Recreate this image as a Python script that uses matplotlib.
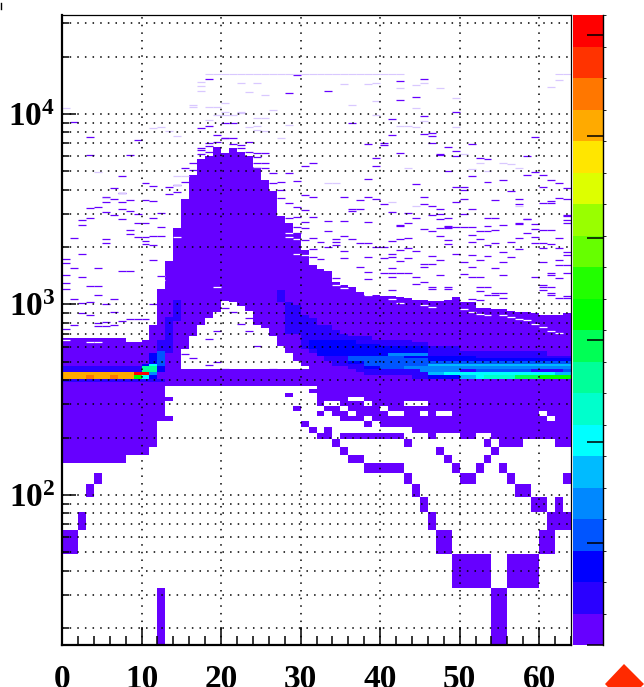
import numpy as np
import matplotlib
matplotlib.use("Agg")
import matplotlib.pyplot as plt
from matplotlib.colors import ListedColormap, BoundaryNorm
from matplotlib.lines import Line2D
from matplotlib.patches import Polygon
from matplotlib.ticker import FixedLocator, NullFormatter
from matplotlib.transforms import Bbox

plt.rcParams['font.family'] = ['Liberation Serif', 'DejaVu Serif']
plt.rcParams['mathtext.fontset'] = 'custom'
plt.rcParams['mathtext.bf'] = 'Liberation Serif:bold'
plt.rcParams['mathtext.rm'] = 'Liberation Serif:bold'

# -------------------------
# histogram layout
# -------------------------
n_x = 64
bin_w = 16.3
n_y = 520
y_max = 33080
z_max = 3097

palette = ['#6600ff', '#2a00ff', '#0000ff', '#0055ff', '#0088ff', '#00bbff', '#00ffff',
           '#00ffcc', '#00ff99', '#00ff55', '#00ff00', '#22ff00', '#66ff00', '#99ff00',
           '#ddff00', '#ffe600', '#ffaa00', '#ff7700', '#ff3300', '#ff0000']

# -------------------------
# solid purple area, one value per x bin
# -------------------------
solid_top = [665, 665, 665, 665, 665, 665, 665, 665, 630, 630, 650, 780, 1202, 1679, 2512, 3565,
             4786, 5781, 6026, 6745, 6219, 6607, 6339, 5970, 5297, 4508, 3912, 2890, 2667, 2366, 1932, 1611,
             1517, 1486, 1291, 1265, 1230, 1146, 1122, 1122, 1100, 1100, 1091, 1069, 1057, 1057, 1035, 1035,
             1045, 1091, 1023, 1014, 955, 955, 935, 935, 916, 906, 899, 881, 864, 864, 868, 881]

# white dome under the peak
dome_bins = list(range(14, 31))
dome_top = [455, 581, 682, 780, 845, 898, 1032, 1020, 973, 916, 780, 735, 676, 589, 542, 500, 468]
dome_low = 444

# sparse lower part: y bin number -> x bins filled
low_rows = [
    (1, [12, 54, 55]),
    (2, [*range(49, 54), *range(56, 60)]),
    (3, [0, 1, 47, 48, 60, 61]),
    (4, [2, 46, 61, 62, 63]),
    (5, [45, 59, 60, 62]),
    (6, [3, 44, 57, 58]),
    (7, [4, 43, 50, 51, 56, 63]),
    (8, [*range(38, 43), 49, 52, 55]),
    (9, [*range(0, 8), 36, 37, 48, 53]),
    (10, [*range(0, 11), 35, 47, 54]),
    (11, [*range(0, 12), 34, 43, 53, 55, 56, 57, 62, 63]),
    (12, [*range(0, 12), 32, 33, *range(35, 43), 46, 50, 51, *range(54, 64)]),
    (13, [*range(0, 12), 31, 33, *range(44, 64)]),
    (14, [*range(0, 12), 30, 38, *range(40, 64)]),
    (15, [*range(0, 14), 35, 36, 37, *range(39, 61), 62, 63]),
    (16, [*range(0, 13), 32, 34, 35, *range(37, 41), 43, 44, 46, *range(49, 60), 61, 62, 63]),
    (17, [*range(0, 13), 29, 33, 34, *range(36, 40), *range(41, 64)]),
    (18, [*range(0, 13), 32, 35, 36, 37, *range(39, 43), *range(46, 64)]),
    (19, [*range(0, 14), *range(32, 36), *range(38, 64)]),
    (20, [*range(0, 13), 28, *range(32, 64)]),
    (21, [*range(0, 13), 31, *range(32, 64)]),
    (22, [*range(0, 13), *range(32, 64)]),
]

# -------------------------
# coloured blocks: first bin, last bin, low y, high y, content
# -------------------------
block_first = [0, 0, 13, 14, 12, 27, 28, 29, 30, 31, 32, 33, 34, 35, 36, 37, 38, 39, 41, 44, 46, 50, 61]
block_last = [9, 12, 13, 14, 12, 27, 28, 29, 30, 31, 32, 33, 34, 35, 36, 37, 38, 40, 43, 45, 49, 60, 63]
block_low = [440, 391, 554, 811, 554, 1030, 700, 700, 588, 554, 531, 500, 480, 471, 460, 440, 425, 420, 417, 412, 407, 407, 407]
block_high = [472, 407, 861, 1054, 660, 1190, 1030, 990, 880, 845, 780, 780, 730, 705, 680, 680, 680, 650, 650, 630, 610, 565, 545]
block_value = [230] * 23

deep_first = [31, 32, 36, 40, 38, 46, 52, 12, 11, 10]
deep_last = [33, 36, 39, 45, 39, 51, 63, 12, 11, 10]
deep_low = [590, 545, 490, 475, 450, 500, 500, 440, 490, 472]
deep_high = [650, 650, 620, 600, 520, 545, 525, 472, 550, 490]
deep_value = [390, 390, 390, 390, 390, 390, 390, 390, 390, 390]

mid_first = [36, 38, 40, 46, 52, 55, 63, 12, 46, 50, 41, 46, 50, 12]
mid_last = [37, 42, 45, 63, 54, 58, 63, 12, 50, 50, 45, 49, 63, 12]
mid_low = [500, 480, 455, 489, 440, 440, 440, 472, 407, 407, 537, 440, 456, 472]
mid_high = [540, 540, 520, 505, 456, 456, 456, 572, 424, 424, 553, 472, 472, 572]
mid_value = [545, 545, 545, 545, 545, 545, 545, 545, 390, 545, 700, 700, 700, 545]

top_first = [43, 46, 45, 46, 48, 62, 50, 52, 53, 57, 60, 11, 10, 11, 11, 10, 10, 9, 9, 0, 3, 6]
top_last = [45, 63, 45, 47, 61, 63, 51, 52, 56, 59, 63, 11, 11, 11, 11, 10, 10, 9, 9, 8, 3, 6]
top_low = [456, 472, 440, 424, 424, 424, 407, 407, 407, 407, 407, 472, 440, 424, 407, 424, 407, 424, 407, 407, 407, 407]
top_high = [472, 489, 456, 440, 440, 440, 424, 424, 424, 424, 424, 489, 472, 440, 424, 440, 424, 440, 424, 440, 424, 424]
top_value = [700, 850, 700, 850, 1010, 850, 850, 1010, 1160, 1470, 1630, 1010, 1320, 700, 390,
             3000, 1010, 3000, 1630, 2560, 2710, 2710]

# -------------------------
# isolated single bins above the solid area: (x bin, log10 y)
# -------------------------
dark_left = [(9, 3.862), (1, 3.960), (3, 3.877), (3, 3.786), (8, 3.786), (7, 3.673), (10, 3.636), (11, 3.620),
             (6, 3.613), (7, 3.587), (13, 3.617), (13, 3.580), (5, 3.562), (5, 3.540), (6, 3.552), (7, 3.540),
             (8, 3.548), (10, 3.548), (11, 3.545), (3, 3.508), (4, 3.510), (7, 3.501), (8, 3.492), (9, 3.475),
             (5, 3.484), (6, 3.470), (12, 3.482), (11, 3.452), (3, 3.452), (2, 3.443), (7, 3.447), (2, 3.417),
             (9, 3.426), (10, 3.426), (12, 3.408), (8, 3.391), (8, 3.370), (1, 3.349), (5, 3.342), (9, 3.352),
             (10, 3.356), (11, 3.359), (10, 3.335), (5, 3.324), (10, 3.317), (11, 3.312), (12, 3.358), (2, 3.263),
             (0, 3.237), (0, 3.216), (1, 3.190), (4, 3.190), (0, 3.153), (2, 3.146), (7, 3.174), (8, 3.174),
             (0, 3.110), (3, 3.099), (4, 3.099), (0, 3.079), (4, 3.050), (1, 3.029), (6, 3.029), (2, 3.006),
             (3, 3.011), (5, 3.002), (6, 2.962), (2, 2.954), (3, 2.945), (4, 2.901), (5, 2.910), (6, 2.892),
             (1, 2.892), (7, 2.915), (8, 2.923), (9, 2.923), (10, 2.923), (0, 2.870), (4, 2.885), (5, 2.885),
             (11, 3.235), (12, 3.150), (12, 3.040), (11, 3.000)]

dark_peak = [(18, 4.182), (29, 4.206), (28, 4.108), (17, 3.924), (18, 3.936), (19, 3.889), (20, 3.954), (21, 3.954),
             (20, 3.872), (20, 3.872), (21, 3.872), (19, 3.854), (21, 3.840), (18, 3.832), (17, 3.819), (18, 3.802),
             (22, 3.837), (23, 3.854), (24, 3.797), (25, 3.797), (17, 3.790), (24, 3.772), (25, 3.740), (25, 3.718),
             (26, 3.688), (27, 3.644), (28, 3.688), (29, 3.650), (30, 3.574), (31, 3.566), (30, 3.728), (31, 3.740),
             (27, 3.557), (28, 3.531), (29, 3.510), (30, 3.495), (31, 3.460), (29, 3.460), (30, 3.434), (28, 3.452),
             (29, 3.408), (30, 3.400), (30, 3.338), (31, 3.347), (29, 3.373), (14, 3.627), (14, 3.592), (15, 3.715),
             (16, 3.741), (15, 3.644), (16, 3.705), (17, 3.810), (18, 3.846), (22, 3.820), (23, 3.800), (24, 3.740),
             (26, 3.640), (27, 3.600), (31, 3.250), (32, 3.240), (32, 3.330), (31, 3.290)]

dark_right = [(42, 4.173), (45, 4.185), (33, 4.120), (42, 4.073), (44, 4.087), (49, 4.012), (41, 3.972), (45, 3.991),
              (36, 3.951), (41, 3.889), (45, 3.893), (46, 3.898), (46, 3.886), (40, 3.849), (40, 3.837), (38, 3.840),
              (46, 3.845), (48, 3.825), (49, 3.805), (51, 3.840), (42, 3.793), (47, 3.784), (47, 3.791), (49, 3.779),
              (52, 3.767), (53, 3.762), (58, 3.781), (59, 3.877), (39, 3.767), (39, 3.728), (48, 3.702), (51, 3.674),
              (58, 3.679), (59, 3.697), (60, 3.679), (61, 3.653), (62, 3.636), (63, 3.610), (38, 3.657), (44, 3.632),
              (55, 3.653), (53, 3.641), (49, 3.618), (50, 3.618), (60, 3.618), (56, 3.595), (50, 3.600), (35, 3.566),
              (38, 3.566), (37, 3.548), (39, 3.552), (45, 3.566), (49, 3.539), (40, 3.527), (45, 3.527), (46, 3.518),
              (50, 3.552), (54, 3.548), (57, 3.552), (61, 3.543), (62, 3.557), (63, 3.552), (60, 3.530), (61, 3.530),
              (57, 3.527), (36, 3.501), (36, 3.492), (37, 3.499), (47, 3.499), (51, 3.499), (41, 3.483), (43, 3.478),
              (46, 3.469), (47, 3.473), (48, 3.455), (50, 3.475), (53, 3.452), (54, 3.452), (58, 3.448), (63, 3.469),
              (63, 3.462), (63, 3.442), (35, 3.438), (38, 3.431), (44, 3.452), (42, 3.417), (42, 3.412), (48, 3.412),
              (48, 3.406), (43, 3.425), (47, 3.447), (33, 3.440), (33, 3.387), (45, 3.394), (46, 3.387), (48, 3.401),
              (47, 3.399), (49, 3.408), (50, 3.405), (51, 3.405), (52, 3.387), (54, 3.390), (53, 3.413), (55, 3.417),
              (57, 3.429), (57, 3.422), (58, 3.447), (59, 3.422), (59, 3.394), (60, 3.390), (61, 3.390), (62, 3.347),
              (63, 3.426), (35, 3.359), (34, 3.342), (34, 3.329), (36, 3.342), (37, 3.324), (38, 3.324), (42, 3.343),
              (43, 3.350), (47, 3.359), (48, 3.338), (51, 3.364), (52, 3.342), (53, 3.387), (56, 3.329), (57, 3.347),
              (58, 3.377), (59, 3.355), (60, 3.324), (61, 3.315), (41, 3.333), (34, 3.312), (33, 3.303), (39, 3.303),
              (40, 3.303), (42, 3.286), (43, 3.294), (44, 3.282), (48, 3.315), (51, 3.329), (53, 3.312), (54, 3.324),
              (57, 3.289), (59, 3.321), (62, 3.294), (63, 3.277), (60, 3.294), (35, 3.280), (41, 3.265), (41, 3.251),
              (49, 3.265), (51, 3.259), (53, 3.254), (55, 3.277), (56, 3.251), (63, 3.259), (62, 3.233), (35, 3.242),
              (38, 3.247), (40, 3.242), (43, 3.245), (45, 3.210), (46, 3.210), (42, 3.230), (46, 3.254), (47, 3.233),
              (50, 3.224), (52, 3.233), (55, 3.224), (60, 3.224), (62, 3.208), (63, 3.208), (37, 3.198), (41, 3.189),
              (45, 3.198), (54, 3.189), (51, 3.195), (38, 3.172), (40, 3.163), (41, 3.163), (42, 3.163), (43, 3.163),
              (50, 3.158), (51, 3.146), (52, 3.146), (55, 3.154), (59, 3.146), (61, 3.163), (61, 3.155), (63, 3.166),
              (34, 3.137), (38, 3.132), (41, 3.146), (44, 3.142), (47, 3.153), (45, 3.119), (44, 3.107), (46, 3.090),
              (46, 3.082), (48, 3.090), (48, 3.082), (52, 3.090), (53, 3.090), (60, 3.100), (60, 3.092), (62, 3.137),
              (61, 3.093), (52, 3.072), (41, 3.075), (54, 3.058), (55, 3.058), (53, 3.047), (54, 3.047), (60, 3.075),
              (61, 3.058), (61, 3.050), (63, 3.044), (62, 3.032), (63, 3.032), (55, 3.032), (51, 3.028), (52, 3.023)]

light_dashes = [(17, 4.169), (17, 4.147), (17, 4.122), (16, 4.047), (16, 4.035), (18, 4.038), (19, 4.035), (20, 4.056),
                (20, 4.012), (22, 4.012), (26, 4.020), (19, 3.994), (20, 3.994), (21, 3.994), (22, 4.003), (24, 3.977),
                (25, 3.977), (18, 3.968), (23, 3.933), (24, 3.936), (24, 3.915), (22, 4.165), (24, 4.160), (23, 4.117),
                (25, 4.100), (12, 3.933), (11, 3.924), (13, 3.912), (14, 3.884), (0, 4.030), (4, 3.693), (14, 3.676),
                (15, 3.674), (14, 3.625), (5, 3.557), (7, 3.583), (27, 3.872), (24, 3.720), (25, 3.910), (28, 3.940),
                (39, 4.165), (35, 4.155), (38, 4.155), (42, 4.135), (44, 4.150), (45, 4.165), (47, 4.135), (49, 4.085),
                (39, 4.070), (36, 4.048), (44, 4.030), (62, 4.178), (61, 4.140), (39, 3.994), (45, 3.965), (42, 3.935),
                (43, 3.936), (44, 3.930), (49, 3.933), (50, 3.788), (52, 3.745), (51, 3.713), (55, 3.745), (56, 3.735),
                (57, 3.716), (53, 3.700), (43, 3.715), (41, 3.540), (44, 3.515), (57, 3.515), (33, 3.640), (34, 3.640)]

long_line_log = 4.210
long_line_bins = [*range(18, 43), 62, 63]

white_gaps = [(12, 3.130), (12, 3.150), (14, 3.355), (19, 3.090), (30, 3.262), (29, 3.265), (28, 3.373), (28, 3.355),
              (29, 3.345), (34, 3.103), (35, 3.085), (38, 3.050), (41, 3.030), (42, 3.005), (45, 2.995), (46, 2.985),
              (50, 2.975), (51, 2.960), (52, 2.952), (53, 2.945), (55, 2.945), (56, 2.935), (57, 2.925), (58, 2.920),
              (59, 2.900), (60, 2.880), (61, 2.860), (62, 2.850), (0, 2.812), (3, 2.805), (4, 2.805)]

dome_strips = [(15, 2.740), (16, 2.720), (17, 2.650), (18, 2.680), (19, 2.700), (18, 2.820), (19, 2.860), (20, 2.980),
               (21, 2.960), (22, 2.900), (23, 2.860), (24, 2.780), (20, 2.660), (26, 2.660), (27, 2.650), (23, 2.930)]

x_ticks = [0, 10, 20, 30, 40, 50, 60]
y_ticks = [100, 1000, 10000]
y_labels = [r'$\mathbf{10^{2}}$', r'$\mathbf{10^{3}}$', r'$\mathbf{10^{4}}$']
z_ticks = [0, 500, 1000, 1500, 2000, 2500, 3000]

# -------------------------
# fill the histogram
# -------------------------
counts = np.zeros((n_x, n_y + 1))
for n, bins in low_rows:
    counts[bins, n] = 40
for k in range(n_x):
    counts[k, 23:int(solid_top[k] / bin_w) + 1] = 40
for k, top in zip(dome_bins, dome_top):
    counts[k, int(dome_low / bin_w) + 1:int(top / bin_w) + 1] = 0

for first, last, low, high, value in zip(block_first + deep_first + mid_first + top_first,
                                         block_last + deep_last + mid_last + top_last,
                                         block_low + deep_low + mid_low + top_low,
                                         block_high + deep_high + mid_high + top_high,
                                         block_value + deep_value + mid_value + top_value):
    counts[first:last + 1, round(low / bin_w):round(high / bin_w)] = value

x_edges = np.arange(n_x + 1)
y_edges = bin_w * np.arange(1, n_y + 2)
levels = np.linspace(0, z_max, len(palette) + 1)
cmap = ListedColormap(palette)
norm = BoundaryNorm(levels, cmap.N)

# -------------------------
# figure
# -------------------------
fig = plt.figure(figsize=(6.44, 6.87), dpi=100)
ax = fig.add_axes([62 / 644, 42 / 687, 509 / 644, 630 / 687])
cax = fig.add_axes([573 / 644, 42 / 687, 30 / 644, 630 / 687])

mesh = ax.pcolormesh(x_edges, y_edges, np.ma.masked_equal(counts[:, 1:].T, 0),
                     cmap=cmap, norm=norm, antialiased=False, linewidth=0, zorder=1)

def draw_dashes(pairs, color, lw=0.9):
    xs = np.array([p[0] for p in pairs])
    ys = 10.0 ** np.array([p[1] for p in pairs])
    ax.hlines(ys, xs, xs + 1, colors=color, linewidth=lw, zorder=2)

draw_dashes(white_gaps, 'white')
draw_dashes(dome_strips, palette[0])
draw_dashes(dark_left + dark_peak + dark_right, palette[0])
draw_dashes(light_dashes, '#d9c8ff')
draw_dashes([(k, long_line_log) for k in long_line_bins], '#d9c8ff', lw=0.8)

ax.set_yscale('log')
ax.set_xlim(0, n_x)
ax.set_ylim(bin_w, y_max)

ax.set_xticks(x_ticks)
ax.set_xticks(np.arange(0, n_x + 1, 2), minor=True)
ax.yaxis.set_major_locator(FixedLocator(y_ticks))
ax.set_yticklabels(y_labels)
ax.yaxis.set_minor_locator(FixedLocator([m * 10.0 ** d for d in (1, 2, 3, 4) for m in range(2, 10)]))
ax.yaxis.set_minor_formatter(NullFormatter())

ax.tick_params(axis='x', which='major', direction='in', length=13, width=1.1, labelsize=24, pad=14)
ax.tick_params(axis='x', which='minor', direction='in', length=6.5, width=1.1)
ax.tick_params(axis='y', which='major', direction='in', length=10, width=1.1, labelsize=24, pad=5)
ax.tick_params(axis='y', which='minor', direction='in', length=5, width=1.1)
for label in ax.get_xticklabels():
    label.set_fontweight('bold')

ax.set_axisbelow(False)
ax.xaxis.grid(True, which='major', color='black', linestyle=(0, (1, 4)), linewidth=1.1)
ax.yaxis.grid(True, which='both', color='black', linestyle=(0, (1, 4)), linewidth=1.1)

ax.spines['left'].set_linewidth(1.6)
ax.spines['bottom'].set_linewidth(1.6)
ax.spines['top'].set_linewidth(0.9)
ax.spines['right'].set_linewidth(0.9)

# colour scale
cb = fig.colorbar(mesh, cax=cax, spacing='proportional')
cb.outline.set_visible(False)
cb.set_ticks(z_ticks)
cax.set_yticklabels([])
cax.tick_params(axis='y', which='major', direction='in', length=11.5, width=1.1, right=True)
cax.spines['right'].set_visible(True)
cax.spines['right'].set_linewidth(1.0)
label_clip = Bbox([[0, 0], [636, 687]])
for z in z_ticks:
    cax.text(1.06, z, str(z), transform=cax.get_yaxis_transform(), fontsize=17, fontweight='bold',
             va='center', ha='left', clip_on=True, clip_box=label_clip)

# red marker cut by the lower edge and the small mark at the top corner
fig.add_artist(Polygon([[605 / 644, 3 / 687], [624 / 644, 23 / 687], [644 / 644, 3 / 687], [624 / 644, -17 / 687]],
                       closed=True, facecolor='#ff2a00', edgecolor='none', transform=fig.transFigure))
fig.add_artist(Line2D([0.5 / 644, 0.5 / 644], [678 / 687, 684 / 687], color='black', linewidth=1.0,
                      transform=fig.transFigure))

fig.savefig('out.png', dpi=100)
